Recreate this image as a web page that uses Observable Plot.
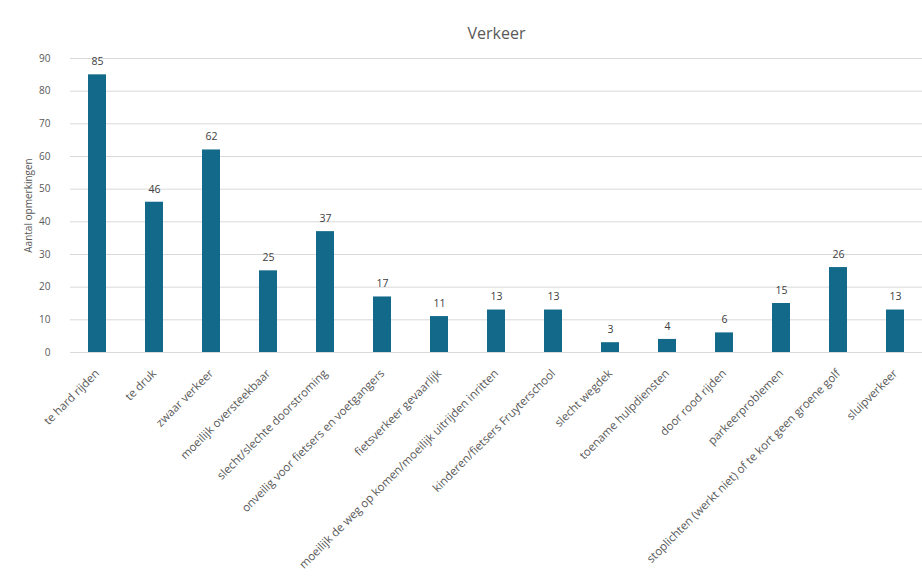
<!DOCTYPE html>
<html>
<head>
<meta charset="utf-8">
<script src="https://cdn.jsdelivr.net/npm/d3@7"></script>
<script src="https://cdn.jsdelivr.net/npm/@observablehq/plot@0.6"></script>
<style>
  body { margin: 0; background: #fff; }
  svg { font-family: "Open Sans", "Noto Sans", sans-serif; }
</style>
</head>
<body>
<div id="chart"></div>
<script>
const categories = [
  "te hard rijden",
  "te druk",
  "zwaar verkeer",
  "moeilijk oversteekbaar",
  "slecht/slechte doorstroming",
  "onveilig voor fietsers en voetgangers",
  "fietsverkeer gevaarlijk",
  "moeilijk de weg op komen/moeilijk uitrijden inritten",
  "kinderen/fietsers Fruyterschool",
  "slecht wegdek",
  "toename hulpdiensten",
  "door rood rijden",
  "parkeerproblemen",
  "stoplichten (werkt niet) of te kort geen groene golf",
  "sluipverkeer"
];
const values = [85, 46, 62, 25, 37, 17, 11, 13, 13, 3, 4, 6, 15, 26, 13];
const yTicks = [0, 10, 20, 30, 40, 50, 60, 70, 80, 90];
const title = "Verkeer";
const yLabel = "Aantal opmerkingen";

const data = categories.map((c, i) => ({category: c, value: values[i]}));

const chart = Plot.plot({
  width: 922,
  height: 577,
  marginLeft: 70,
  marginRight: 0,
  marginTop: 58,
  marginBottom: 225,
  style: {fontSize: "10px", color: "#595959", background: "#fff"},
  x: {domain: categories, paddingInner: 0.68, paddingOuter: 0.3},
  y: {domain: [0, 90]},
  marks: [
    Plot.gridY(yTicks, {stroke: "#d9d9d9", strokeOpacity: 1}),
    Plot.axisY(yTicks, {
      tickSize: 0, tickPadding: 20, fill: "#595959",
      label: yLabel, labelAnchor: "center", labelArrow: "none", labelOffset: 46
    }),
    Plot.axisX({
      tickSize: 0, tickPadding: 19, tickRotate: -45, fill: "#595959", fontSize: 11.5, label: null
    }),
    Plot.barY(data, {x: "category", y: "value", fill: "#12698a"}),
    Plot.text(data, {x: "category", y: "value", text: d => String(d.value), dy: -13, fill: "#404040", fontSize: 10.5}),
    Plot.text([title], {frameAnchor: "top", dy: -31, fontSize: 16, fill: "#595959", text: d => d})
  ]
});
document.getElementById("chart").appendChild(chart);
</script>
</body>
</html>
